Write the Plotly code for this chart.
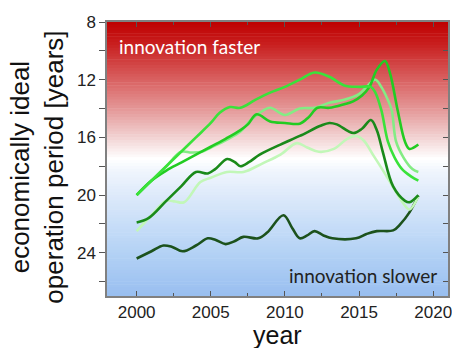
import numpy as np
import plotly.graph_objects as go

# --- series (year, economically ideal operation period in years) ---
lime_x = [2000, 2001, 2002, 2003, 2004, 2005, 2005.6, 2006.3, 2007, 2008, 2009, 2010, 2011, 2012,
          2013, 2014, 2015, 2015.8, 2016.1, 2016.5, 2016.95, 2017.4, 2017.9, 2018.5, 2019]
lime_y = [20.0, 19.0, 18.0, 17.0, 16.0, 15.0, 14.3, 13.9, 13.95, 13.4, 12.9, 12.5, 12.0, 11.5,
          11.8, 12.4, 12.5, 12.5, 12.9, 14.1, 16.3, 17.4, 18.2, 18.7, 19.0]

bright_x = [2000, 2001, 2002, 2003, 2004, 2005, 2006, 2007, 2007.5, 2008.1, 2009, 2010, 2011,
            2011.6, 2012.2, 2013, 2014, 2014.6, 2015.2, 2015.7, 2016.2, 2016.75, 2017.1, 2017.6,
            2018.1, 2018.4, 2019]
bright_y = [20.0, 19.0, 18.3, 17.75, 17.2, 16.65, 16.1, 15.5, 15.1, 14.4, 14.9, 15.0, 15.05,
            14.6, 13.95, 13.95, 13.7, 13.5, 13.1, 12.5, 11.3, 10.7, 11.6, 14.1,
            16.3, 16.8, 16.5]

light_x = [2000, 2001, 2002, 2003, 2003.7, 2004.4, 2005, 2006, 2007, 2007.7, 2008.3, 2009, 2010,
           2011, 2012, 2013, 2014, 2015, 2015.6, 2016.1, 2016.5, 2016.9, 2017.2, 2017.5, 2018.0,
           2018.6, 2019]
light_y = [20.0, 19.0, 18.0, 17.0, 17.05, 17.0, 16.7, 16.2, 15.6, 14.8, 14.3, 13.95, 14.45,
           14.0, 13.95, 13.6, 13.4, 13.0, 12.4, 12.0, 12.5, 13.3, 14.1, 16.3, 17.4,
           18.2, 18.4]

dark_x = [2000, 2000.8, 2002, 2003, 2004, 2004.8, 2005.3, 2006.1, 2006.6, 2007, 2007.6, 2008.3,
          2009.7, 2011, 2012.4, 2013, 2013.5, 2014.6, 2015.2, 2015.8, 2016.2, 2016.6, 2017.3,
          2018.1, 2018.4, 2019]
dark_y = [21.9, 21.6, 20.4, 19.4, 18.4, 18.5, 18.2, 17.5, 17.7, 18.0, 17.7, 17.2,
          16.5, 15.9, 15.2, 15.0, 15.1, 15.7, 15.4, 14.8, 15.5, 17.0, 19.4,
          20.4, 20.5, 20.0]

pale_x = [2000, 2001, 2002, 2002.6, 2003.2, 2004.3, 2005, 2006.1, 2007.2, 2008.5, 2009.7, 2010.8,
          2011.5, 2012.3, 2013.3, 2014.2, 2014.8, 2015.3, 2016.0, 2016.8, 2017.5, 2018.0, 2018.4,
          2019]
pale_y = [22.5, 21.4, 20.4, 20.45, 20.5, 19.1, 18.8, 18.4, 18.4, 17.8, 17.2, 16.4,
          16.7, 17.0, 16.8, 16.1, 15.9, 16.2, 17.3, 18.6, 19.8, 20.6, 21.0,
          20.1]

deep_x = [2000, 2001, 2001.8, 2002.4, 2003.1, 2004, 2004.8, 2005.3, 2006.0, 2006.6, 2007.2, 2008.2,
          2008.8, 2009.9, 2010.5, 2011.0, 2011.5, 2012.0, 2012.6, 2013.2, 2014.8, 2015.5, 2016.2,
          2017.3, 2017.8, 2018.4, 2019]
deep_y = [24.4, 23.9, 23.5, 23.6, 23.9, 23.5, 23.0, 23.1, 23.4, 23.2, 22.9, 23.0,
          22.6, 21.4, 22.3, 23.0, 22.8, 22.5, 22.8, 23.0, 23.0, 22.7, 22.5,
          22.45, 22.0, 21.2, 20.05]

series = [
    (deep_x, deep_y, "#1c521c"),
    (pale_x, pale_y, "#c2f7b8"),
    (dark_x, dark_y, "#1a8a1a"),
    (light_x, light_y, "#84ec84"),
    (bright_x, bright_y, "#22cc22"),
    (lime_x, lime_y, "#3ae23a"),
]

x_ticks = [2000, 2005, 2010, 2015, 2020]
y_ticks = [8, 12, 16, 20, 24]
Y_RANGE = [27, 8]
X_RANGE = [1998, 2021]

fig = go.Figure()
for xs, ys, col in series:
    fig.add_trace(go.Scatter(x=xs, y=ys, mode="lines",
                             line=dict(color=col, width=2.6, shape="spline", smoothing=1.0),
                             showlegend=False, hoverinfo="skip"))

# red-white-blue background gradient, drawn as thin horizontal bands
stops_v = np.array([8, 9.5, 11, 12.5, 14, 15.5, 16.5, 17.5, 18.5, 20, 22, 24, 27])
stops_c = np.array([
    [190, 0, 0], [200, 30, 30], [210, 70, 70], [220, 110, 110], [228, 150, 150],
    [238, 195, 195], [246, 225, 225], [255, 255, 255], [238, 244, 253], [222, 234, 250],
    [200, 222, 248], [180, 210, 245], [152, 190, 240]])
edges = np.linspace(8, 27, 96)
shapes = []
for lo, hi in zip(edges[:-1], edges[1:]):
    mid = 0.5 * (lo + hi)
    rgb = [int(round(np.interp(mid, stops_v, stops_c[:, k]))) for k in range(3)]
    shapes.append(dict(type="rect", xref="paper", yref="y", x0=0, x1=1,
                       y0=lo - 0.02, y1=hi + 0.02, layer="below", line=dict(width=0),
                       fillcolor=f"rgb({rgb[0]},{rgb[1]},{rgb[2]})"))

tick_font = dict(family="Liberation Sans, Arial, sans-serif", size=17, color="#222")
axis_line = "#808080"

fig.update_layout(
    template="none",
    width=452, height=348,
    margin=dict(l=107, r=4, t=22, b=52),
    paper_bgcolor="white", plot_bgcolor="white",
    shapes=shapes,
    xaxis=dict(range=X_RANGE, tickmode="array", tickvals=x_ticks, ticks="inside", ticklen=5,
               tickcolor="#555", showline=True, linecolor=axis_line, linewidth=1.5,
               mirror="ticks", showgrid=False, zeroline=False, tickfont=tick_font,
               ticklabeloverflow="allow",
               minor=dict(dtick=2.5, tick0=2000, ticks="inside", ticklen=3, tickcolor="#555",
                          showgrid=False)),
    yaxis=dict(range=Y_RANGE, tickmode="array", tickvals=y_ticks, ticks="outside", ticklen=6,
               tickcolor="#555", showline=True, linecolor=axis_line, linewidth=1.5,
               mirror=True, showgrid=False, zeroline=False, tickfont=tick_font,
               minor=dict(dtick=2, tick0=8, ticks="outside", ticklen=6, tickcolor="#555",
                          showgrid=False)),
    yaxis2=dict(range=Y_RANGE, overlaying="y", side="right", anchor="x", dtick=2, tick0=8,
                ticks="inside", ticklen=5, tickcolor="#555", showticklabels=False,
                showline=False, showgrid=False, zeroline=False),
)

# invisible carrier so the right-hand axis is laid out
fig.add_trace(go.Scatter(x=[None], y=[None], yaxis="y2", showlegend=False, hoverinfo="skip"))

title_font = dict(family="Liberation Sans, Arial, sans-serif", size=26, color="#111")
fig.add_annotation(text="economically ideal<br>operation period [years]", textangle=-90,
                   xref="paper", yref="paper", x=-0.204, y=0.47, xanchor="center",
                   yanchor="middle", showarrow=False, font=title_font)
fig.add_annotation(text="year", xref="paper", yref="paper", x=0.5, y=0.0,
                   yshift=-38.5, xanchor="center", yanchor="middle", showarrow=False,
                   font=dict(family="Liberation Sans, Arial, sans-serif", size=25, color="#111"))

label_font = "Lato, Open Sans, sans-serif"
fig.add_annotation(text="innovation faster", xref="paper", yref="paper", x=0.029, y=0.909,
                   xanchor="left", yanchor="middle", showarrow=False,
                   font=dict(family=label_font, size=19, color="white"))
fig.add_annotation(text="innovation slower", xref="paper", yref="paper", x=0.974, y=0.073,
                   xanchor="right", yanchor="middle", showarrow=False,
                   font=dict(family=label_font, size=19, color="#222"))

fig.write_html("out.html")
